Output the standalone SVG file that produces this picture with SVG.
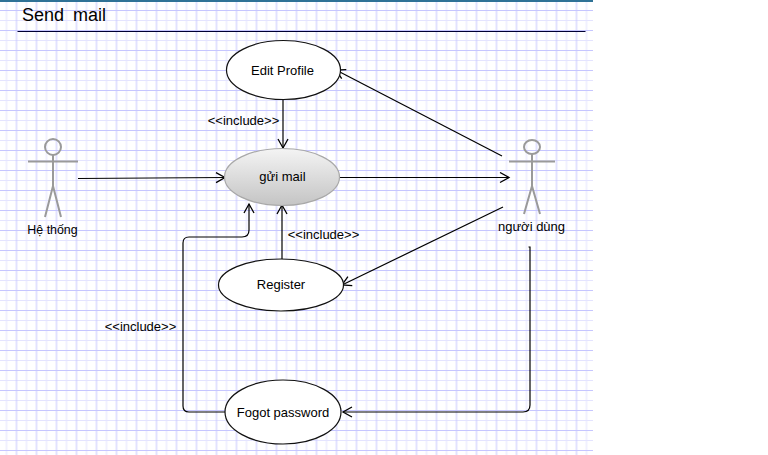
<svg xmlns="http://www.w3.org/2000/svg" width="768" height="455" viewBox="0 0 768 455">
<style>
text{font-family:"Liberation Sans",Arial,sans-serif;font-size:13px;fill:#000;text-anchor:middle}
.uc{fill:#fff;stroke:#111;stroke-width:1.2}
.c{fill:none;stroke:#000;stroke-width:1.2}
.a{fill:none;stroke:#9a9a9a;stroke-width:2}
</style>
<defs>
<pattern id="grid" width="20" height="20" patternUnits="userSpaceOnUse" patternTransform="translate(-3.5 0)">
<rect width="20" height="20" fill="#fff"/>
<path d="M0 .5H20" stroke="#e4e4ff" stroke-width="1"/>
<path d="M10 0V20" stroke="#e4e4ff" stroke-width="1"/>
<path d="M0 10.5H20" stroke="#c6c6ff" stroke-width="1"/>
<path d="M0 0V20M20 0V20" stroke="#c6c6ff" stroke-width="1"/>
</pattern>
<linearGradient id="g" x1="0" y1="0" x2="0" y2="1"><stop offset="0" stop-color="#f4f4f4"/><stop offset="1" stop-color="#c4c4c4"/></linearGradient>
<marker id="arr" markerWidth="12" markerHeight="12" refX="10" refY="6" orient="auto" markerUnits="userSpaceOnUse"><path d="M1 1L10 6L1 11" fill="none" stroke="#000" stroke-width="1.3"/></marker>
</defs>
<rect width="593" height="455" fill="url(#grid)"/>
<rect width="593" height="2" fill="#2f7296"/>
<g id="title">
<text x="22" y="21" style="font-size:18px;text-anchor:start;word-spacing:4px">Send mail</text>
<path d="M17.500 31.500H585.500" stroke="#000033" stroke-width="1.200"/>
</g>
<g id="connectors">
<path class="c" d="M283 99V148" marker-end="url(#arr)"/>
<path class="c" d="M78 178.500L225 177.500" marker-end="url(#arr)"/>
<path class="c" d="M340 177.500H509" marker-end="url(#arr)"/>
<path class="c" d="M502 156L336 70" marker-end="url(#arr)"/>
<path class="c" d="M503 207L342 285" marker-end="url(#arr)"/>
<path class="c" d="M282 261V205" marker-end="url(#arr)"/>
<path class="c" d="M226 412H189Q183 412 183 406V243Q183 237 189 237H242Q249 237 249 230V204" marker-end="url(#arr)"/>
<path class="c" d="M528.500 247H530V405Q530 412 523 412H343" marker-end="url(#arr)"/>
</g>
<g id="edit-profile"><ellipse class="uc" cx="283.500" cy="70" rx="57" ry="29.500"/><text x="282.500" y="75">Edit Profile</text></g>
<g id="gui-mail"><ellipse cx="282" cy="177" rx="57.500" ry="28.500" fill="url(#g)" stroke="#a8a8a8" stroke-width="1.200"/><text x="282.500" y="180.500">gửi mail</text></g>
<g id="register"><ellipse class="uc" cx="281" cy="285" rx="62.500" ry="26"/><text x="281" y="289">Register</text></g>
<g id="fogot-password"><ellipse class="uc" cx="283" cy="412" rx="58" ry="32"/><text x="283" y="417">Fogot password</text></g>
<g id="actor-he-thong">
<circle class="a" cx="53" cy="147" r="8"/>
<path class="a" d="M53 155V186M28 161.500H78M53 186L45 217M53 186L61 217"/>
<text x="52.500" y="234" style="font-size:12.400px">Hệ thống</text>
</g>
<g id="actor-nguoi-dung">
<ellipse class="a" cx="532" cy="147" rx="8" ry="7"/>
<path class="a" d="M532 154V186M509 161.500H555M532 186L524 214M532 186L540 214"/>
<text x="531.500" y="231">người dùng</text>
</g>
<g id="labels">
<text x="243.500" y="125">&lt;&lt;include&gt;&gt;</text>
<text x="323.500" y="239">&lt;&lt;include&gt;&gt;</text>
<text x="140.500" y="331">&lt;&lt;include&gt;&gt;</text>
</g>
</svg>
